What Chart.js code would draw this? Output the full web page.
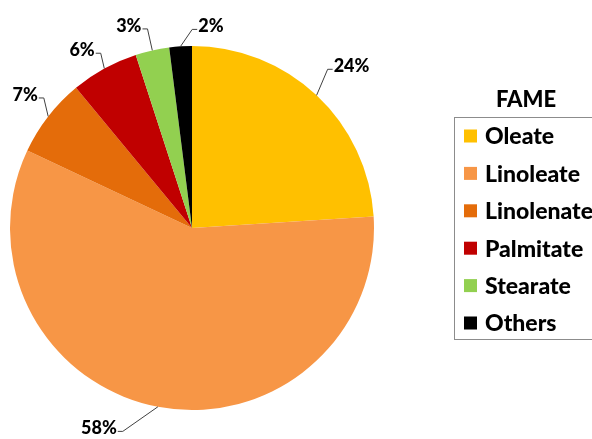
<!DOCTYPE html>
<html>
<head>
<meta charset="utf-8">
<script src="https://cdn.jsdelivr.net/npm/chart.js@4.4.1/dist/chart.umd.min.js"></script>
<style>
  html, body { margin: 0; padding: 0; background: #fff; overflow: hidden; }
  #wrap { width: 592px; height: 439px; position: relative; }
</style>
</head>
<body>
<div id="wrap"><canvas id="pie"></canvas></div>
<script>
const labels = ['Oleate', 'Linoleate', 'Linolenate', 'Palmitate', 'Stearate', 'Others'];
const shares = [24, 58, 7, 6, 3, 2];
const colors = ['#FFC000', '#F79646', '#E46C0A', '#C00000', '#92D050', '#000000'];
const legendTitle = 'FAME';

// leader line tweaks: [dx, dy] applied to the elbow, and which side the text goes
const elbowNudge = [[-4, -10], [-31, 3], [13, -5], [7, 4], [0, 0], [13, 5]];
const labelSide = ['right', 'left', 'left', 'left', 'left', 'right'];

const FONT = 'Lato, "Open Sans", sans-serif';

const leaderLabels = {
    id: 'leaderLabels',
    afterDatasetsDraw(chart) {
        const ctx = chart.ctx;
        const arcs = chart.getDatasetMeta(0).data;
        ctx.save();
        ctx.font = '900 18px ' + FONT;
        ctx.textBaseline = 'middle';
        arcs.forEach((arc, i) => {
            const p = arc.getProps(['x', 'y', 'startAngle', 'endAngle', 'outerRadius'], true);
            const mid = (p.startAngle + p.endAngle) / 2;
            const ex = p.x + Math.cos(mid) * p.outerRadius;
            const ey = p.y + Math.sin(mid) * p.outerRadius;
            const bx = p.x + Math.cos(mid) * (p.outerRadius + 22) + elbowNudge[i][0];
            const by = p.y + Math.sin(mid) * (p.outerRadius + 22) + elbowNudge[i][1];
            const dir = labelSide[i] === 'right' ? 1 : -1;
            const hx = bx + dir * 5;
            ctx.strokeStyle = '#404040';
            ctx.lineWidth = 1;
            ctx.beginPath();
            ctx.moveTo(ex, ey);
            ctx.lineTo(bx, by);
            ctx.lineTo(hx, by);
            ctx.stroke();
            ctx.fillStyle = '#000';
            ctx.textAlign = dir > 0 ? 'left' : 'right';
            ctx.fillText(shares[i] + '%', hx + dir * 1, by - 3);
        });
        ctx.restore();
    }
};

// legend box with the title sitting above it
const boxLegend = {
    id: 'boxLegend',
    afterDraw(chart) {
        const ctx = chart.ctx;
        const left = 454, top = 117, bottom = 339, right = 600;
        ctx.save();
        ctx.strokeStyle = '#8c8c8c';
        ctx.lineWidth = 1;
        ctx.strokeRect(left + 0.5, top + 0.5, right - left, bottom - top);
        ctx.fillStyle = '#000';
        ctx.font = '900 22px ' + FONT;
        ctx.textAlign = 'center';
        ctx.textBaseline = 'middle';
        ctx.fillText(legendTitle, 526, 100);
        ctx.font = '900 23px ' + FONT;
        ctx.textAlign = 'left';
        labels.forEach((name, i) => {
            const cy = 136 + i * 37.4;
            ctx.fillStyle = colors[i];
            ctx.fillRect(464, cy - 6.5, 13, 13);
            ctx.fillStyle = '#000';
            ctx.fillText(name, 485, cy + 1);
        });
        ctx.restore();
    }
};

new Chart(document.getElementById('pie'), {
    type: 'pie',
    data: {
        labels: labels,
        datasets: [{
            data: shares,
            backgroundColor: colors,
            borderWidth: 0
        }]
    },
    options: {
        responsive: true,
        maintainAspectRatio: false,
        animation: false,
        layout: { padding: { left: 10, right: 218, top: 46, bottom: 29 } },
        plugins: {
            legend: { display: false },
            tooltip: { enabled: false }
        }
    },
    plugins: [leaderLabels, boxLegend]
});
</script>
</body>
</html>
